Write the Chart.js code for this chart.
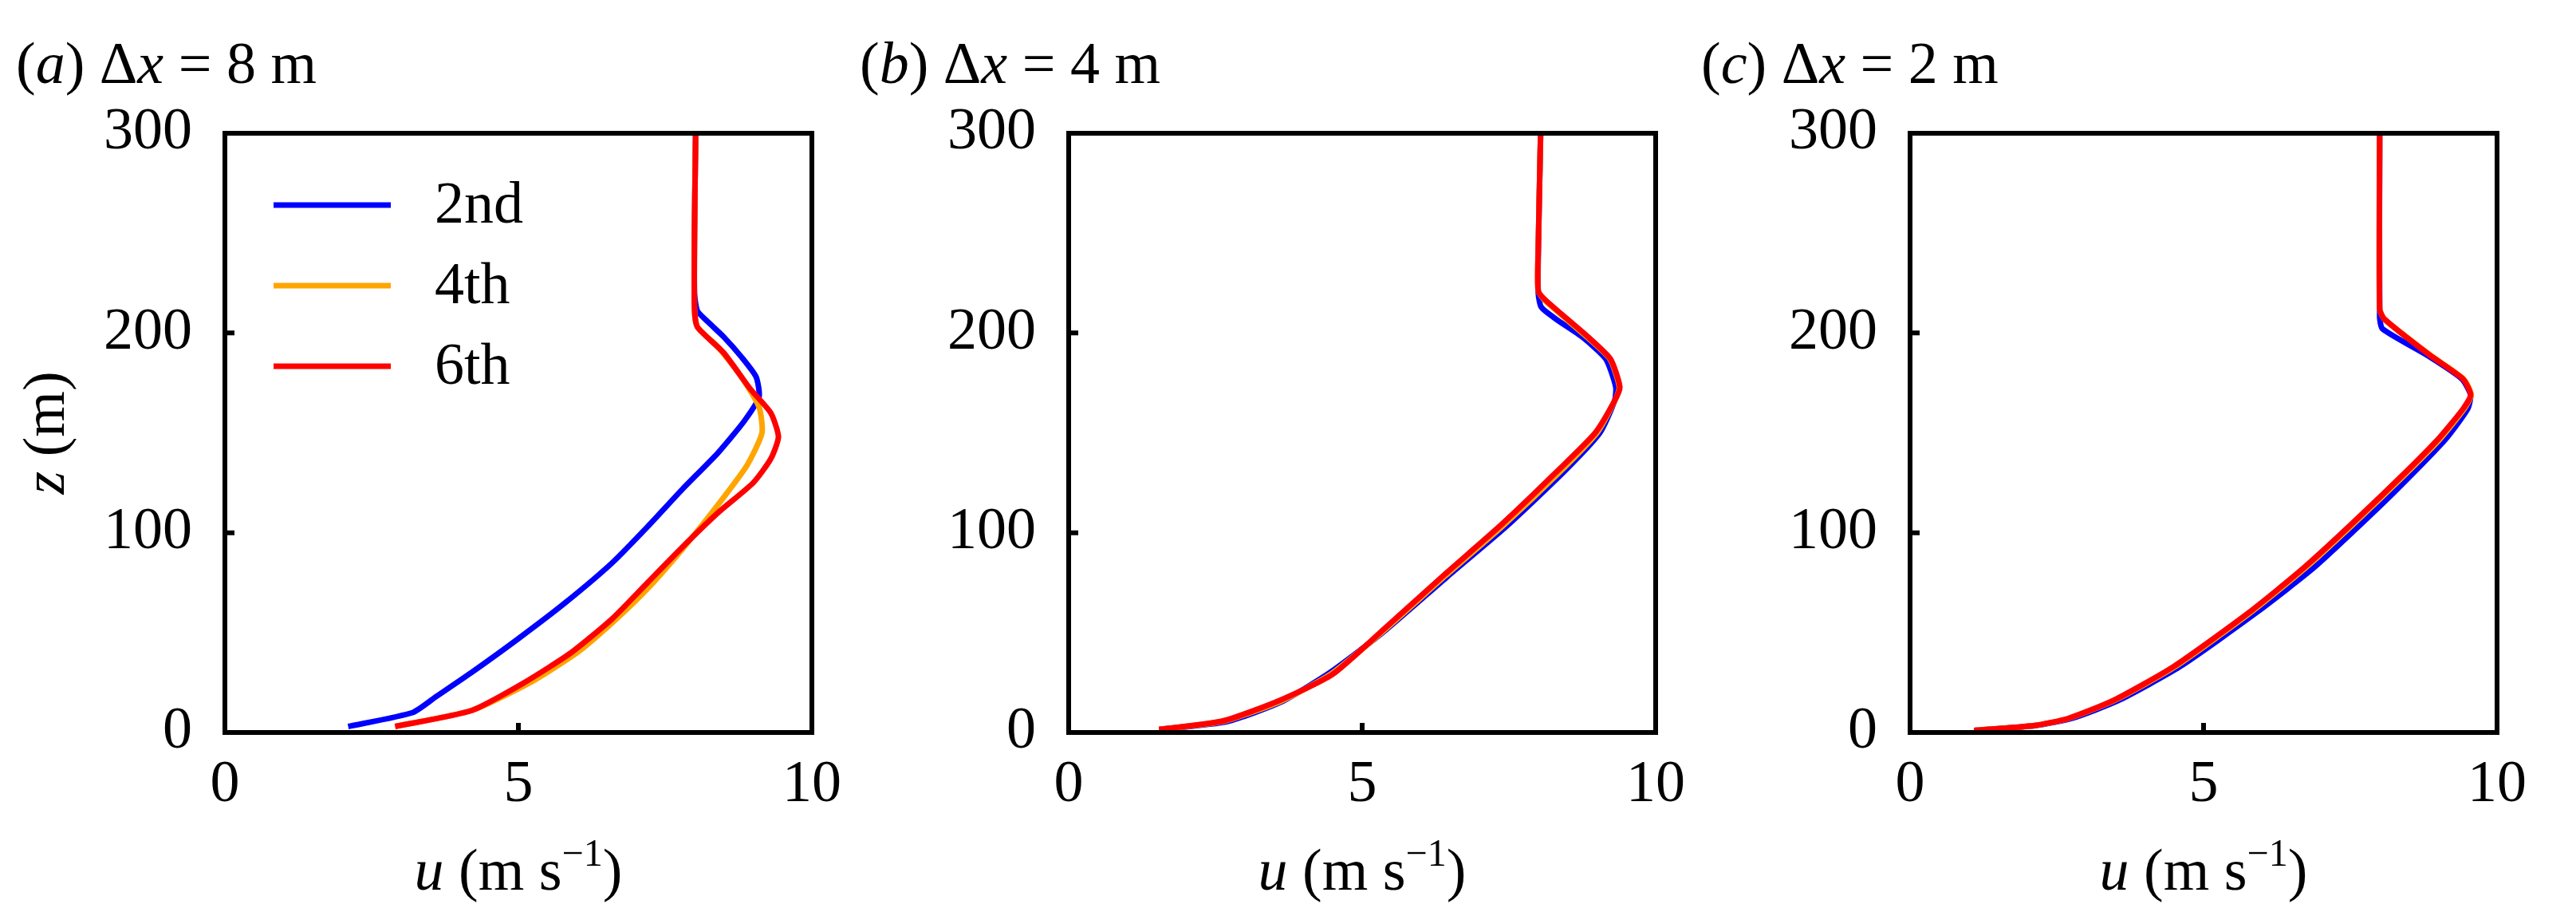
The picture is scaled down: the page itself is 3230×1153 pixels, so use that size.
<!DOCTYPE html>
<html><head><meta charset="utf-8">
<script src="https://cdn.jsdelivr.net/npm/chart.js@4"></script>
<style>body{margin:0;background:#fff;width:3230px;height:1153px;overflow:hidden;position:relative}canvas{position:absolute;top:0}</style>
</head><body>
<canvas id="c0" style="left:0px"></canvas>
<canvas id="c1" style="left:1058px"></canvas>
<canvas id="c2" style="left:2113px"></canvas>
<script>
const seriesNames = ['2nd','4th','6th'];
const seriesColors = ['#0000ff','#ffa500','#ff0000'];
const xTicks = [0,5,10];
const yTicks = [0,100,200,300];
const panelLetters = ['a','b','c'];
const panelDx = ['8','4','2'];

// panel (a) Δx = 8 m : [u, z]
const a2nd = [[2.1,3],[3.2,10],[3.6,18],[4.2,30],[5.0,47],[5.8,65],[6.6,85],[7.2,103],[7.8,122],[8.4,140],[8.85,156],[9.1,168],[9.05,178],[8.8,188],[8.5,198],[8.25,205],[8.05,211],[8.0,220],[8.0,250],[8.02,300]];
const a4th = [[2.9,3],[4.2,11],[5.2,25],[6.0,40],[6.6,55],[7.2,72],[7.8,92],[8.4,114],[8.9,134],[9.15,150],[9.1,163],[8.8,178],[8.4,193],[8.05,203],[8.0,212],[8.0,250],[8.02,300]];
const a6th = [[2.9,3],[4.2,11],[5.1,25],[5.9,40],[6.6,57],[7.2,75],[7.8,93],[8.4,110],[9.0,125],[9.3,137],[9.43,148],[9.3,160],[8.95,172],[8.5,190],[8.05,203],[8.0,212],[8.0,250],[8.02,300]];
// panel (b) Δx = 4 m
const b2nd = [[1.54,1.5],[2.7,5.5],[3.6,15],[4.45,30],[5.35,50],[6.45,78],[7.45,103],[8.42,130],[9.05,150],[9.3,166],[9.32,173],[9.15,187],[8.75,198],[8.3,207],[8.05,213],[8.0,220],[8.0,240],[8.04,300]];
const b4th = [[1.54,1.5],[2.65,5.7],[3.6,15.5],[4.48,29.5],[5.37,51],[6.42,78.5],[7.4,103.5],[8.37,130.5],[9.0,150],[9.3,166],[9.38,173],[9.22,187],[8.83,198],[8.14,215.5],[8.0,221],[8.0,242],[8.04,300]];
const b6th = [[1.54,1.5],[2.63,5.8],[3.59,16],[4.49,29],[5.38,52],[6.4,79],[7.37,104],[8.33,131],[8.97,150],[9.3,166],[9.39,173],[9.23,187],[8.85,198],[8.14,216],[8.0,221],[8.0,242],[8.04,300]];
// panel (c) Δx = 2 m
const c2nd = [[1.09,1],[2.15,3.5],[2.75,7],[3.55,16],[4.6,33],[5.9,60],[6.9,83],[8.17,118],[9.1,146],[9.5,162],[9.55,169],[9.4,177],[8.8,189],[8.05,202],[8.0,208],[8.0,300]];
const c4th = [[1.09,1],[2.13,3.5],[2.7,7],[3.48,16],[4.52,33],[5.8,60],[6.76,83],[8.04,118],[9.0,146],[9.44,162],[9.56,169],[9.43,177],[8.86,189],[8.08,207],[8.0,212],[8.0,300]];
const c6th = [[1.09,1],[2.12,3.5],[2.69,7],[3.46,16],[4.49,33],[5.77,60],[6.73,83],[8.01,118],[8.97,146],[9.42,162],[9.55,169],[9.42,177],[8.85,189],[8.08,207],[8.0,212],[8.0,300]];

const panels = [[a2nd,a4th,a6th],[b2nd,b4th,b6th],[c2nd,c4th,c6th]];
const boxW = [792,786,786];
const FONT = '"Liberation Serif","DejaVu Serif",serif';
const FS = 74;

function runs(ctx, parts, x, y){
  for (const [t, it, sup] of parts){
    ctx.font = (it?'italic ':'') + (sup? (FS*0.65):FS) + 'px ' + FONT;
    ctx.fillText(t, x, sup ? y - FS*0.4 : y);
    x += ctx.measureText(t).width;
  }
  return x;
}
function runsWidth(ctx, parts){
  let w=0;
  for (const [t,it,sup] of parts){ctx.font=(it?'italic ':'')+(sup?(FS*0.65):FS)+'px '+FONT; w+=ctx.measureText(t).width;}
  return w;
}

panels.forEach((sets, pi) => {
  const cv = document.getElementById('c'+pi);
  const W = 1077, H = 1153;
  cv.width = W; cv.height = H; cv.style.width = W+'px'; cv.style.height = H+'px';
  const deco = {
    id:'deco',
    afterDraw(ch){
      const ctx = ch.ctx, ca = ch.chartArea;
      const xs = ch.scales.x, ys = ch.scales.y;
      ctx.save();
      ctx.fillStyle = '#000'; ctx.strokeStyle = '#000';
      ctx.lineWidth = 6;
      ctx.strokeRect(ca.left, ca.top, ca.right-ca.left, ca.bottom-ca.top);
      ctx.beginPath();
      xTicks.slice(1,-1).forEach(v=>{const px=xs.getPixelForValue(v); ctx.moveTo(px,ca.bottom); ctx.lineTo(px,ca.bottom-12);});
      yTicks.slice(1,-1).forEach(v=>{const py=ys.getPixelForValue(v); ctx.moveTo(ca.left,py); ctx.lineTo(ca.left+12,py);});
      ctx.stroke();
      ctx.textBaseline = 'alphabetic'; ctx.textAlign = 'left';
      runs(ctx, [['(',0],[panelLetters[pi],1],[') Δ',0],['x',1],[' = '+panelDx[pi]+' m',0]], 20, 104);
      const xl = [['u',1],[' (m s',0],['−1',0,1],[')',0]];
      const xw = runsWidth(ctx, xl);
      runs(ctx, xl, (ca.left+ca.right)/2 - xw/2, 1115);
      if (pi===0){
        ctx.save();
        ctx.translate(80, (ca.top+ca.bottom)/2);
        ctx.rotate(-Math.PI/2);
        const yl = [['z',1],[' (m)',0]];
        runs(ctx, yl, -runsWidth(ctx,yl)/2, 0);
        ctx.restore();
        ctx.lineWidth = 7;
        seriesNames.forEach((n,i)=>{
          const y = 257 + i*101;
          ctx.strokeStyle = seriesColors[i];
          ctx.beginPath(); ctx.moveTo(343,y); ctx.lineTo(490,y); ctx.stroke();
          ctx.font = FS+'px '+FONT; ctx.fillStyle='#000';
          ctx.textBaseline='middle';
          ctx.fillText(n, 545, y+3);
        });
      }
      ctx.restore();
    }
  };
  new Chart(cv, {
    type:'line',
    data:{datasets: sets.map((d,i)=>({
      label: seriesNames[i],
      data: d.map(p=>({x:p[0], y:p[1]})),
      borderColor: seriesColors[i], borderWidth: 7, pointRadius: 0, tension: 0.2,
      borderJoinStyle:'round', fill:false, order: 2-i
    }))},
    options:{
      responsive:false, animation:false, devicePixelRatio:1,
      layout:{padding:{left:0, top:167, right: W-282-boxW[pi], bottom:0}},
      plugins:{legend:{display:false}, tooltip:{enabled:false}},
      scales:{
        x:{type:'linear', min:0, max:10, afterBuildTicks:s=>{s.ticks=xTicks.map(v=>({value:v}));},
           grid:{display:false, drawTicks:false}, border:{display:false},
           ticks:{font:{family:FONT,size:FS}, color:'#000', padding:22, maxRotation:0},
           afterFit:s=>{s.height = H-918;}},
        y:{type:'linear', min:0, max:300, afterBuildTicks:s=>{s.ticks=yTicks.map(v=>({value:v}));},
           grid:{display:false, drawTicks:false}, border:{display:false},
           ticks:{font:{family:FONT,size:FS}, color:'#000', padding:41},
           afterFit:s=>{s.width = 282;}}
      }
    },
    plugins:[deco]
  });
});
</script>
</body></html>
